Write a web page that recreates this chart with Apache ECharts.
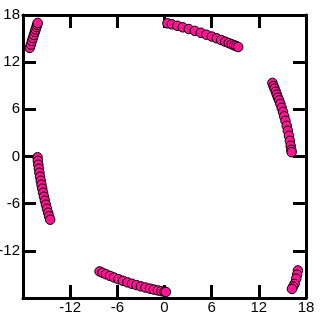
<!DOCTYPE html>
<html>
<head>
<meta charset="utf-8">
<script src="https://cdn.jsdelivr.net/npm/echarts@6/dist/echarts.min.js"></script>
<style>
html,body{margin:0;padding:0;background:#fff;}
#c{width:323px;height:319px;}
</style>
</head>
<body>
<div id="c"></div>
<script>
var xTicks = [-18, -12, -6, 0, 6, 12, 18];
var yTicks = [-18, -12, -6, 0, 6, 12, 18];

var arcTopLeft = [
  [-17.14, 13.81], [-17.00, 14.25], [-16.86, 14.70], [-16.74, 15.08], [-16.62, 15.46],
  [-16.49, 15.84], [-16.39, 16.16], [-16.29, 16.48], [-16.21, 16.74], [-16.13, 16.99]
];
var arcTop = [
  [0.37, 16.94], [0.94, 16.81], [1.64, 16.63], [2.33, 16.43], [3.10, 16.21],
  [3.86, 15.98], [4.62, 15.74], [5.32, 15.50], [6.02, 15.26], [6.65, 15.03],
  [7.22, 14.81], [7.73, 14.61], [8.17, 14.43], [8.55, 14.28], [8.87, 14.14],
  [9.12, 14.04], [9.38, 13.93]
];
var arcRight = [
  [13.73, 9.36], [13.87, 8.95], [14.00, 8.64], [14.15, 8.25], [14.29, 7.87],
  [14.43, 7.49], [14.59, 7.14], [14.74, 6.70], [14.91, 6.19], [15.07, 5.68],
  [15.23, 5.11], [15.39, 4.54], [15.55, 3.90], [15.69, 3.27], [15.83, 2.63],
  [15.95, 1.99], [16.05, 1.36], [16.13, 0.85], [16.17, 0.55]
];
var arcBottomRight = [
  [16.97, -14.49], [16.87, -15.03], [16.76, -15.54], [16.55, -16.21], [16.36, -16.56], [16.21, -16.85]
];
var arcBottom = [
  [-8.26, -14.62], [-7.88, -14.79], [-7.44, -14.98], [-6.93, -15.19], [-6.42, -15.39],
  [-5.85, -15.61], [-5.28, -15.81], [-4.71, -16.01], [-4.14, -16.19], [-3.57, -16.36],
  [-3.00, -16.52], [-2.42, -16.67], [-1.85, -16.81], [-1.35, -16.93], [-0.84, -17.04],
  [-0.39, -17.13], [-0.01, -17.20], [0.18, -17.23]
];
var arcLeft = [
  [-16.15, -0.10], [-16.11, -0.55], [-16.05, -1.06], [-15.98, -1.56], [-15.91, -2.07],
  [-15.83, -2.58], [-15.74, -3.09], [-15.65, -3.59], [-15.55, -4.10], [-15.44, -4.61],
  [-15.33, -5.12], [-15.21, -5.63], [-15.08, -6.14], [-14.95, -6.65], [-14.80, -7.16],
  [-14.68, -7.60], [-14.54, -8.04]
];

var allPoints = [].concat(arcTopLeft, arcTop, arcRight, arcBottomRight, arcBottom, arcLeft);

var FONT = 'Liberation Sans';
function axisCommon(min, max, showLabel, pos, hideVal) {
  return {
    type: 'value',
    position: pos,
    min: min, max: max, interval: 6,
    axisLine: { show: true, onZero: false, lineStyle: { color: '#000', width: 3 } },
    axisTick: { show: true, inside: true, length: 13, lineStyle: { color: '#000', width: 3 } },
    splitLine: { show: false },
    axisLabel: {
      show: showLabel,
      color: '#000',
      fontFamily: FONT,
      fontSize: 15,
      formatter: function (v) { return v === hideVal ? '' : String(v); }
    }
  };
}

var chart = echarts.init(document.getElementById('c'), null, { renderer: 'canvas' });
var xb = axisCommon(xTicks[0], xTicks[xTicks.length - 1], true, 'bottom', -18);
xb.axisLabel.margin = 2;
var xt = axisCommon(xTicks[0], xTicks[xTicks.length - 1], false, 'top', null);
var yl = axisCommon(yTicks[0], yTicks[yTicks.length - 1], true, 'left', -18);
yl.axisLabel.margin = 3;
yl.axisLabel.padding = [0, 0, 9, 0];
var yr = axisCommon(yTicks[0], yTicks[yTicks.length - 1], false, 'right', null);

chart.setOption({
  animation: false,
  backgroundColor: '#fff',
  grid: { left: 23, top: 15, width: 283, height: 283, outerBoundsMode: 'none', containLabel: false },
  xAxis: [xb, xt],
  yAxis: [yl, yr],
  series: [{
    type: 'scatter',
    xAxisIndex: 0,
    yAxisIndex: 0,
    data: allPoints,
    symbol: 'circle',
    symbolSize: 9.5,
    itemStyle: { color: '#ff1493', borderColor: '#000', borderWidth: 1, opacity: 1 },
    z: 3
  }]
});
</script>
</body>
</html>
